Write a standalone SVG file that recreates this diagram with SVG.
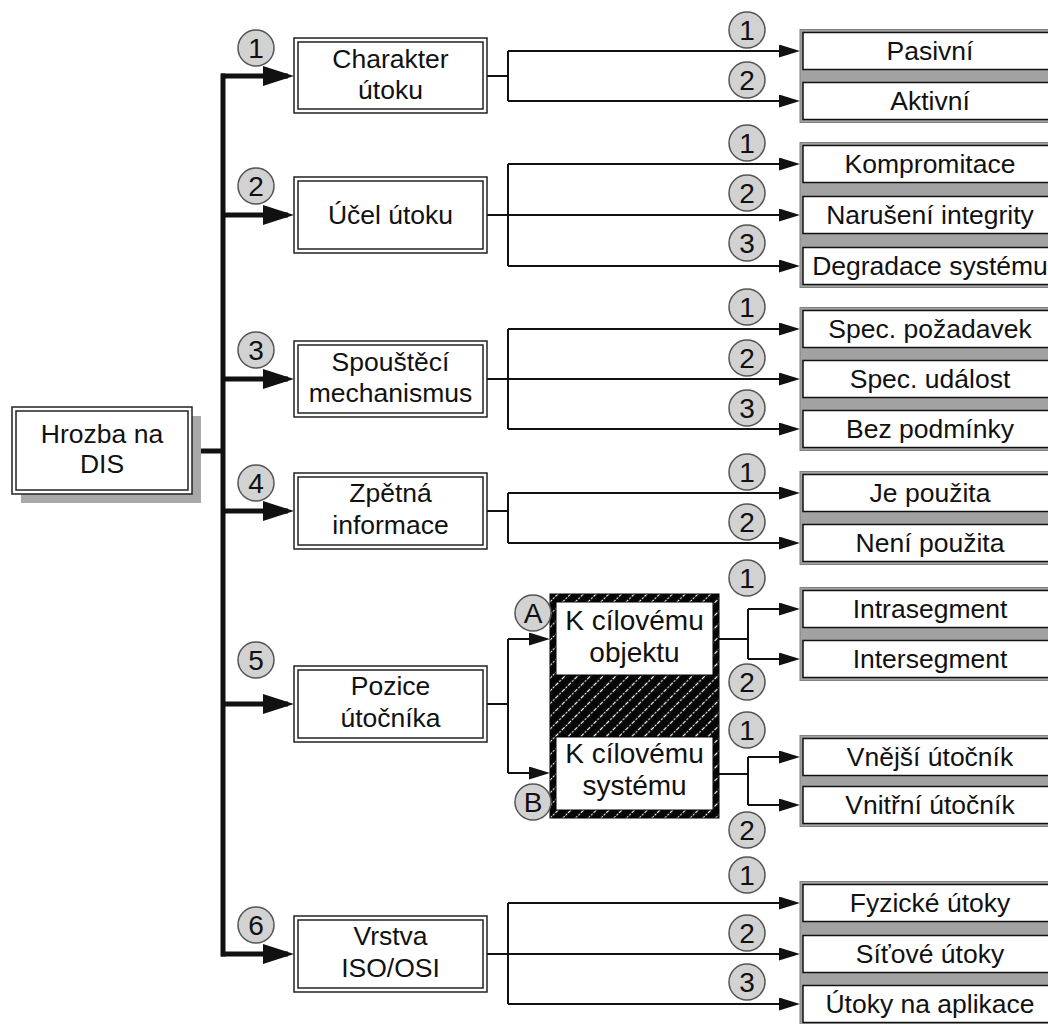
<svg xmlns="http://www.w3.org/2000/svg" width="1048" height="1024" viewBox="0 0 1048 1024">
<style>
text{font-family:"Liberation Sans",Arial,sans-serif;fill:#111;text-anchor:middle}
.lt{font-size:26.5px}
.rt{font-size:26.5px}
.ht{font-size:28px}
.bt{font-size:28px}
.outer{fill:#fff;stroke:#222;stroke-width:1.5}
.inner{fill:none;stroke:#222;stroke-width:1.5}
.badge{fill:#d2d2d2;stroke:#555;stroke-width:1.5}
.grp{fill:#a2a2a2;stroke:#808080;stroke-width:1}
.item{fill:#fff;stroke:#111;stroke-width:1.5}
.thin{fill:none;stroke:#111;stroke-width:2}
.tarr{fill:none;stroke:#111;stroke-width:2;marker-end:url(#ah)}
.thick{fill:none;stroke:#111;stroke-width:5}
.karr{fill:none;stroke:#111;stroke-width:5;marker-end:url(#ahk)}
</style>
<defs>
<marker id="ah" markerUnits="userSpaceOnUse" markerWidth="21" markerHeight="13" refX="16" refY="6.5" orient="auto">
<path d="M0,0 L21,6.5 L0,13 z" fill="#111"/>
</marker>
<marker id="ahk" markerUnits="userSpaceOnUse" markerWidth="31" markerHeight="20" refX="25" refY="10" orient="auto">
<path d="M0,0 L31,10 L0,20 z" fill="#111"/>
</marker>
<pattern id="hatch" patternUnits="userSpaceOnUse" width="9" height="9" patternTransform="rotate(45)">
<rect width="9" height="9" fill="#050505"/>
<line x1="4.5" y1="0" x2="4.5" y2="9" stroke="#fff" stroke-width="1.2" stroke-dasharray="2 1.5"/>
</pattern>
</defs>
<rect width="1048" height="1024" fill="#fff"/>

<g id="connectors">
<path class="thick" d="M223 73.5 V956.5"/>
<path class="thick" d="M201 451 H225"/>
<path class="karr" d="M221 76 H288"/>
<path class="karr" d="M221 215 H288"/>
<path class="karr" d="M221 379 H288"/>
<path class="karr" d="M221 511 H288"/>
<path class="karr" d="M221 704 H288"/>
<path class="karr" d="M221 954 H288"/>

<path class="thin" d="M487 76 H508 M508 51 V101"/>
<path class="tarr" d="M508 51 H795"/>
<path class="tarr" d="M508 101 H795"/>

<path class="thin" d="M487 215 H508 M508 164 V266"/>
<path class="tarr" d="M508 164 H795"/>
<path class="tarr" d="M508 215 H795"/>
<path class="tarr" d="M508 266 H795"/>

<path class="thin" d="M487 379 H508 M508 329 V429"/>
<path class="tarr" d="M508 329 H795"/>
<path class="tarr" d="M508 379 H795"/>
<path class="tarr" d="M508 429 H795"/>

<path class="thin" d="M487 511 H508 M508 493 V543"/>
<path class="tarr" d="M508 493 H795"/>
<path class="tarr" d="M508 543 H795"/>

<path class="thin" d="M487 704 H508 M508 639 V773"/>
<path class="tarr" d="M508 639 H545"/>
<path class="tarr" d="M508 773 H545"/>

<path class="thin" d="M719 639 H748 M748 609 V659"/>
<path class="tarr" d="M748 609 H795"/>
<path class="tarr" d="M748 659 H795"/>

<path class="thin" d="M719 774 H748 M748 757 V805"/>
<path class="tarr" d="M748 757 H795"/>
<path class="tarr" d="M748 805 H795"/>

<path class="thin" d="M487 954 H508 M508 903 V1004"/>
<path class="tarr" d="M508 903 H795"/>
<path class="tarr" d="M508 954 H795"/>
<path class="tarr" d="M508 1004 H795"/>
</g>

<g id="root">
<rect x="21" y="416" width="180" height="87" fill="#a8a8a8"/>
<rect class="outer" x="12" y="407" width="180" height="87"/>
<rect class="inner" x="16" y="411" width="172" height="79"/>
<text class="lt" x="102" y="443">Hrozba na</text>
<text class="lt" x="102" y="473">DIS</text>
</g>

<g id="n1">
<rect class="outer" x="294" y="38" width="193" height="75"/>
<rect class="inner" x="298" y="42" width="185" height="67"/>
<text class="lt" x="390.5" y="67.5">Charakter</text>
<text class="lt" x="390.5" y="99">útoku</text>
</g>
<g id="n2">
<rect class="outer" x="294" y="177" width="193" height="76"/>
<rect class="inner" x="298" y="181" width="185" height="68"/>
<text class="lt" x="390.5" y="224">Účel útoku</text>
</g>
<g id="n3">
<rect class="outer" x="294" y="341" width="193" height="76"/>
<rect class="inner" x="298" y="345" width="185" height="68"/>
<text class="lt" x="390.5" y="371">Spouštěcí</text>
<text class="lt" x="390.5" y="402">mechanismus</text>
</g>
<g id="n4">
<rect class="outer" x="294" y="473" width="193" height="76"/>
<rect class="inner" x="298" y="477" width="185" height="68"/>
<text class="lt" x="390.5" y="502">Zpětná</text>
<text class="lt" x="390.5" y="534">informace</text>
</g>
<g id="n5">
<rect class="outer" x="294" y="666" width="193" height="76"/>
<rect class="inner" x="298" y="670" width="185" height="68"/>
<text class="lt" x="390.5" y="695">Pozice</text>
<text class="lt" x="390.5" y="727">útočníka</text>
</g>
<g id="n6">
<rect class="outer" x="294" y="916" width="193" height="76"/>
<rect class="inner" x="298" y="920" width="185" height="68"/>
<text class="lt" x="390.5" y="945">Vrstva</text>
<text class="lt" x="390.5" y="977">ISO/OSI</text>
</g>

<g id="n5-targets">
<rect x="550" y="594" width="169" height="224" fill="url(#hatch)" stroke="#000" stroke-width="1"/>
<rect x="556" y="602" width="157" height="73" fill="#fff" stroke="#000" stroke-width="1"/>
<rect x="556" y="737" width="157" height="73" fill="#fff" stroke="#000" stroke-width="1"/>
<text class="ht" x="634.5" y="630">K cílovému</text>
<text class="ht" x="634.5" y="662">objektu</text>
<text class="ht" x="634.5" y="763">K cílovému</text>
<text class="ht" x="634.5" y="795">systému</text>
</g>

<g id="r1">
<rect class="grp" x="800" y="29.5" width="260" height="93"/>
<rect class="item" x="803" y="32.5" width="257" height="37"/>
<rect class="item" x="803" y="82.5" width="257" height="37"/>
<text class="rt" x="930" y="60">Pasivní</text>
<text class="rt" x="930" y="110">Aktivní</text>
</g>
<g id="r2">
<rect class="grp" x="800" y="142.5" width="260" height="145"/>
<rect class="item" x="803" y="145.5" width="257" height="37"/>
<rect class="item" x="803" y="196.5" width="257" height="37"/>
<rect class="item" x="803" y="247.5" width="257" height="37"/>
<text class="rt" x="930" y="173">Kompromitace</text>
<text class="rt" x="930" y="224">Narušení integrity</text>
<text class="rt" x="930" y="275">Degradace systému</text>
</g>
<g id="r3">
<rect class="grp" x="800" y="307.5" width="260" height="143"/>
<rect class="item" x="803" y="310.5" width="257" height="37"/>
<rect class="item" x="803" y="360.5" width="257" height="37"/>
<rect class="item" x="803" y="410.5" width="257" height="37"/>
<text class="rt" x="930" y="338">Spec. požadavek</text>
<text class="rt" x="930" y="388">Spec. událost</text>
<text class="rt" x="930" y="438">Bez podmínky</text>
</g>
<g id="r4">
<rect class="grp" x="800" y="471.5" width="260" height="93"/>
<rect class="item" x="803" y="474.5" width="257" height="37"/>
<rect class="item" x="803" y="524.5" width="257" height="37"/>
<text class="rt" x="930" y="502">Je použita</text>
<text class="rt" x="930" y="552">Není použita</text>
</g>
<g id="r5">
<rect class="grp" x="800" y="587.5" width="260" height="93"/>
<rect class="item" x="803" y="590.5" width="257" height="37"/>
<rect class="item" x="803" y="640.5" width="257" height="37"/>
<text class="rt" x="930" y="618">Intrasegment</text>
<text class="rt" x="930" y="668">Intersegment</text>
</g>
<g id="r6">
<rect class="grp" x="800" y="735.5" width="260" height="91"/>
<rect class="item" x="803" y="738.5" width="257" height="37"/>
<rect class="item" x="803" y="786.5" width="257" height="37"/>
<text class="rt" x="930" y="766">Vnější útočník</text>
<text class="rt" x="930" y="814">Vnitřní útočník</text>
</g>
<g id="r7">
<rect class="grp" x="800" y="881.5" width="260" height="144"/>
<rect class="item" x="803" y="884.5" width="257" height="37"/>
<rect class="item" x="803" y="935.5" width="257" height="37"/>
<rect class="item" x="803" y="985.5" width="257" height="37"/>
<text class="rt" x="930" y="912">Fyzické útoky</text>
<text class="rt" x="930" y="963">Síťové útoky</text>
<text class="rt" x="930" y="1013">Útoky na aplikace</text>
</g>

<g id="badges">
<circle class="badge" cx="256" cy="48" r="18"/><text class="bt" x="256" y="58">1</text>
<circle class="badge" cx="256" cy="186" r="18"/><text class="bt" x="256" y="196">2</text>
<circle class="badge" cx="256" cy="350" r="18"/><text class="bt" x="256" y="360">3</text>
<circle class="badge" cx="256" cy="483" r="18"/><text class="bt" x="256" y="493">4</text>
<circle class="badge" cx="256" cy="660" r="18"/><text class="bt" x="256" y="670">5</text>
<circle class="badge" cx="256" cy="925" r="18"/><text class="bt" x="256" y="935">6</text>

<circle class="badge" cx="533" cy="613" r="18"/><text class="bt" x="533" y="623">A</text>
<circle class="badge" cx="533" cy="802" r="18"/><text class="bt" x="533" y="812">B</text>

<circle class="badge" cx="747" cy="30" r="18"/><text class="bt" x="747" y="40">1</text>
<circle class="badge" cx="747" cy="80" r="18"/><text class="bt" x="747" y="90">2</text>
<circle class="badge" cx="747" cy="143" r="18"/><text class="bt" x="747" y="153">1</text>
<circle class="badge" cx="747" cy="193" r="18"/><text class="bt" x="747" y="203">2</text>
<circle class="badge" cx="747" cy="243" r="18"/><text class="bt" x="747" y="253">3</text>
<circle class="badge" cx="747" cy="307" r="18"/><text class="bt" x="747" y="317">1</text>
<circle class="badge" cx="747" cy="358" r="18"/><text class="bt" x="747" y="368">2</text>
<circle class="badge" cx="747" cy="408" r="18"/><text class="bt" x="747" y="418">3</text>
<circle class="badge" cx="747" cy="472" r="18"/><text class="bt" x="747" y="482">1</text>
<circle class="badge" cx="747" cy="522" r="18"/><text class="bt" x="747" y="532">2</text>
<circle class="badge" cx="747" cy="578" r="18"/><text class="bt" x="747" y="588">1</text>
<circle class="badge" cx="747" cy="682" r="18"/><text class="bt" x="747" y="692">2</text>
<circle class="badge" cx="747" cy="730" r="18"/><text class="bt" x="747" y="740">1</text>
<circle class="badge" cx="747" cy="830" r="18"/><text class="bt" x="747" y="840">2</text>
<circle class="badge" cx="747" cy="875" r="18"/><text class="bt" x="747" y="885">1</text>
<circle class="badge" cx="747" cy="933" r="18"/><text class="bt" x="747" y="943">2</text>
<circle class="badge" cx="747" cy="982" r="18"/><text class="bt" x="747" y="992">3</text>
</g>
</svg>
